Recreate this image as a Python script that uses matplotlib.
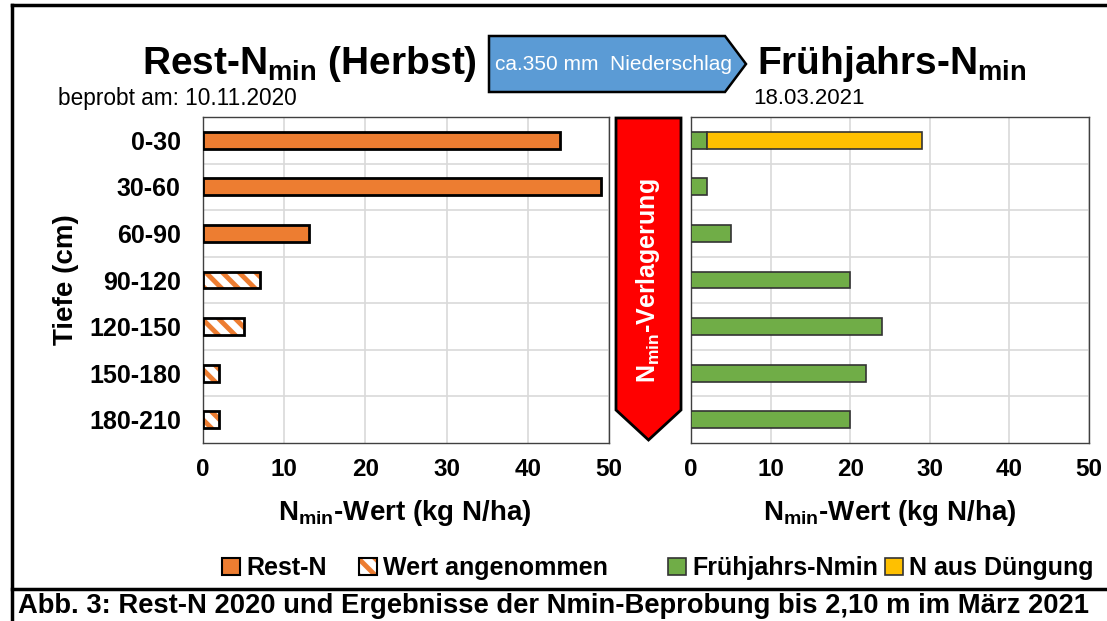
import matplotlib
matplotlib.use('Agg')
import matplotlib.pyplot as plt
from matplotlib.patches import Polygon, Patch
from matplotlib.lines import Line2D
from matplotlib.legend_handler import HandlerTuple
import numpy as np

# Daten
depths = ['0-30', '30-60', '60-90', '90-120', '120-150', '150-180', '180-210']
rest_n = [44, 49, 13, 0, 0, 0, 0]            # gemessen (Herbst)
rest_n_assumed = [0, 0, 0, 7, 5, 2, 2]       # Wert angenommen
fruehjahr_nmin = [2, 2, 5, 20, 24, 22, 20]
n_duengung = [27, 0, 0, 0, 0, 0, 0]
x_ticks = [0, 10, 20, 30, 40, 50]

ORANGE = '#ED7D31'
GREEN = '#70AD47'
YELLOW = '#FFC000'
BLUE = '#5B9BD5'
RED = '#FF0000'

plt.rcParams['font.family'] = ['Liberation Sans', 'DejaVu Sans']
plt.rcParams['mathtext.fontset'] = 'custom'
plt.rcParams['mathtext.rm'] = 'Liberation Sans'
plt.rcParams['mathtext.bf'] = 'Liberation Sans:bold'
plt.rcParams['mathtext.it'] = 'Liberation Sans:italic'
plt.rcParams['hatch.linewidth'] = 3.5
NARROW = ['Liberation Sans Narrow', 'Liberation Sans', 'DejaVu Sans']

W, H = 1107, 621
fig = plt.figure(figsize=(W / 100, H / 100), dpi=100)


def px(x, y):
    return (x / W, 1 - y / H)


def frac(x0, y0, x1, y1):
    return [x0 / W, 1 - y1 / H, (x1 - x0) / W, (y1 - y0) / H]


ax1 = fig.add_axes(frac(203, 117, 609, 443))
ax2 = fig.add_axes(frac(691, 117, 1089, 443))

y = np.arange(len(depths))
bar_h = 0.36

# linkes Diagramm: Rest-N
rn = np.array(rest_n)
ra = np.array(rest_n_assumed)
m = rn > 0
ax1.barh(y[m], rn[m], height=bar_h, color=ORANGE, edgecolor='black', linewidth=2, zorder=3)
m = ra > 0
ax1.barh(y[m], ra[m], height=bar_h, color='white', edgecolor=ORANGE, hatch='\\\\',
         linewidth=0, zorder=3)
ax1.barh(y[m], ra[m], height=bar_h, fill=False, edgecolor='black', linewidth=2, zorder=4)

# rechtes Diagramm: Frühjahrs-Nmin
fn = np.array(fruehjahr_nmin)
nd = np.array(n_duengung)
ax2.barh(y, fn, height=bar_h, color=GREEN, edgecolor='#333333', linewidth=1.2, zorder=3)
m = nd > 0
ax2.barh(y[m], nd[m], left=fn[m], height=bar_h, color=YELLOW, edgecolor='#333333',
         linewidth=1.2, zorder=3)

for ax in (ax1, ax2):
    ax.set_xlim(0, 50)
    ax.set_ylim(len(depths) - 0.5, -0.5)
    ax.set_xticks(x_ticks)
    ax.set_xticklabels([str(t) for t in x_ticks], fontsize=17.5, fontweight='bold')
    ax.set_yticks(np.arange(len(depths) - 1) + 0.5, minor=True)
    ax.grid(axis='x', which='major', color='#D9D9D9', linewidth=1.2, zorder=0)
    ax.grid(axis='y', which='minor', color='#D9D9D9', linewidth=1.2, zorder=0)
    ax.tick_params(which='both', length=0)
    ax.tick_params(axis='x', pad=11)
    for s in ax.spines.values():
        s.set_color('#404040')
        s.set_linewidth(1)
    ax.set_axisbelow(True)

ax1.set_yticks(y)
ax1.set_yticklabels(depths, fontsize=18, fontweight='bold')
ax1.tick_params(axis='y', pad=16)
ax2.set_yticks([])

# Achsentitel
fig.text(*px(66, 280), 'Tiefe (cm)', rotation=90, fontsize=20, fontweight='bold',
         ha='center', va='center')
fig.text(*px(405, 513), r'N$_{\mathbf{min}}$-Wert (kg N/ha)', fontsize=20,
         fontweight='bold', ha='center', va='center')
fig.text(*px(890, 513), r'N$_{\mathbf{min}}$-Wert (kg N/ha)', fontsize=20,
         fontweight='bold', ha='center', va='center')

# Überschriften
fig.text(*px(309, 74), r'Rest-N$_{\mathbf{min}}$ (Herbst)', fontsize=28,
         fontweight='bold', ha='center', va='baseline')
fig.text(*px(757, 74), r'Frühjahrs-N$_{\mathbf{min}}$', fontsize=28,
         fontweight='bold', ha='left', va='baseline')
fig.text(*px(58, 98), 'beprobt am: 10.11.2020', fontsize=16.3, family=NARROW,
         ha='left', va='center')
fig.text(*px(753, 98), '18.03.2021', fontsize=16, family=NARROW,
         ha='left', va='center')

# Pfeil Niederschlag
blue_arrow = Polygon([px(489, 36), px(725, 36), px(746, 64), px(725, 92), px(489, 92)],
                     closed=True, transform=fig.transFigure, facecolor=BLUE,
                     edgecolor='black', linewidth=1.8)
fig.patches.append(blue_arrow)
fig.text(*px(613, 65), 'ca.350 mm  Niederschlag', fontsize=15, family=NARROW,
         color='white', ha='center', va='center')

# Pfeil Verlagerung
red_arrow = Polygon([px(616, 118), px(681, 118), px(681, 410), px(648.5, 440), px(616, 410)],
                    closed=True, transform=fig.transFigure, facecolor=RED,
                    edgecolor='black', linewidth=2)
fig.patches.append(red_arrow)
fig.text(*px(648, 281), r'N$_{\mathbf{min}}$-Verlagerung', rotation=90, fontsize=18,
         fontweight='bold', color='white', ha='center', va='center')

# Legenden
hatch_handle = (Patch(facecolor='white', edgecolor=ORANGE, hatch='\\\\', linewidth=0),
                Patch(fill=False, edgecolor='black', linewidth=1.5))
leg1 = fig.legend([Patch(facecolor=ORANGE, edgecolor='black', linewidth=1.5), hatch_handle],
                  ['Rest-N', 'Wert angenommen'], loc='center', bbox_to_anchor=px(415, 568),
                  ncol=2, frameon=False, handlelength=0.7, handleheight=0.7,
                  handletextpad=0.25, columnspacing=1.3,
                  handler_map={tuple: HandlerTuple(ndivide=1, pad=0)},
                  prop={'family': NARROW, 'weight': 'bold', 'size': 18})
leg2 = fig.legend([Patch(facecolor=GREEN, edgecolor='#333333', linewidth=1.2),
                   Patch(facecolor=YELLOW, edgecolor='#333333', linewidth=1.2)],
                  ['Frühjahrs-Nmin', 'N aus Düngung'], loc='center', bbox_to_anchor=px(881, 568),
                  ncol=2, frameon=False, handlelength=0.7, handleheight=0.7,
                  handletextpad=0.25, columnspacing=0.3,
                  prop={'family': NARROW, 'weight': 'bold', 'size': 18})

# Rahmen
for xs, ys in [([12, 12], [5, 621]), ([12, W], [5, 5]), ([12, W], [589, 589])]:
    fig.add_artist(Line2D([x / W for x in xs], [1 - v / H for v in ys],
                          color='black', linewidth=2.5, transform=fig.transFigure))

fig.text(*px(18, 606), 'Abb. 3: Rest-N 2020 und Ergebnisse der Nmin-Beprobung bis 2,10 m im März 2021',
         fontsize=19.7, fontweight='bold', ha='left', va='center')

fig.savefig('out.png', dpi=100, facecolor='white')
